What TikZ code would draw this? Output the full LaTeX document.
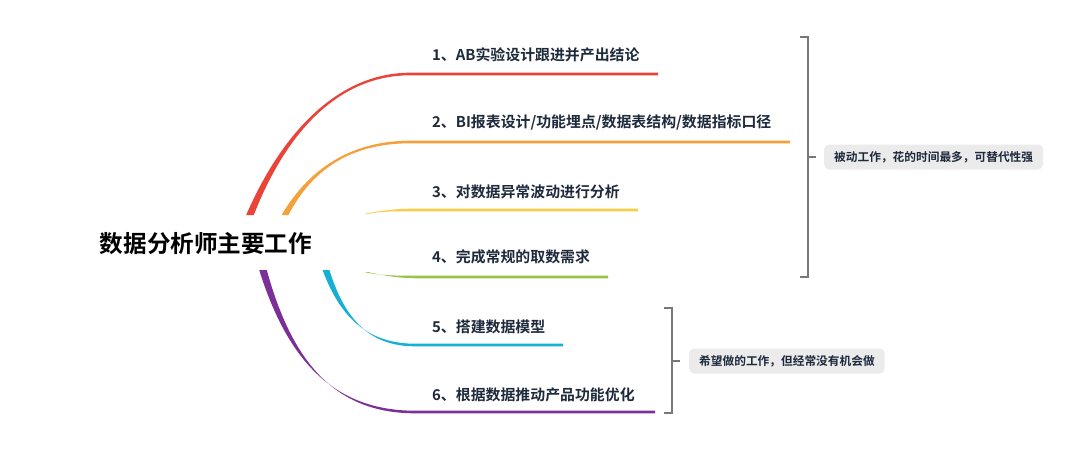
\documentclass[tikz,border=0pt]{standalone}
\usepackage{fontspec}
\setmainfont{Noto Sans CJK SC}
\newfontfamily\cjkb{Noto Sans CJK SC Bold}
\usetikzlibrary{calc}
\definecolor{cRed}{RGB}{234,67,56}
\definecolor{cOrange}{RGB}{245,160,58}
\definecolor{cYellow}{RGB}{250,205,72}
\definecolor{cGreen}{RGB}{150,196,72}
\definecolor{cCyan}{RGB}{22,176,212}
\definecolor{cPurple}{RGB}{122,48,152}
\definecolor{txt}{RGB}{30,42,60}
\definecolor{brk}{RGB}{120,120,120}
\definecolor{boxbg}{RGB}{235,235,236}
\tikzset{
  item/.style={anchor=west, inner sep=0pt, text=txt, font=\cjkb\fontsize{14.9}{16}\selectfont},
  note/.style={fill=boxbg, rounded corners=5pt, minimum height=25pt, inner xsep=10pt, inner ysep=0pt, text=txt, font=\cjkb\fontsize{11.7}{13}\selectfont},
  bracketline/.style={draw=brk, line width=1.5pt},
}
% tapered branch: #1 colour, #2 start, #3 c1, #4 c2, #5 curve end, #6 line end, #7 half start width
\newcommand{\taperbranch}[7]{%
  \fill[#1] ($(#2)+(-#7,0)$) .. controls ($(#3)+(-2,0)$) and ($(#4)+(0,-1.3)$) .. ($(#5)+(0,-1.3)$)
     -- ($(#6)+(0,-1.3)$) -- ($(#6)+(0,1.3)$) -- ($(#5)+(0,1.3)$)
     .. controls ($(#4)+(0,1.3)$) and ($(#3)+(2,0)$) .. ($(#2)+(#7,0)$) -- cycle;}
\begin{document}
\begin{tikzpicture}[x=1pt,y=-1pt]
\useasboundingbox (0,0) rectangle (1080,451);
% central node
\node[anchor=center, inner sep=0pt, font=\cjkb\fontsize{23.6}{26}\selectfont, text=black] (root) at (206,244) {数据分析师主要工作};
% coordinates
\coordinate (s1) at (250,215); \coordinate (a1) at (285,130); \coordinate (b1) at (340,74);  \coordinate (e1) at (410,74);  \coordinate (f1) at (658,74);
\coordinate (s2) at (285,215); \coordinate (a2) at (310,170); \coordinate (b2) at (350,142); \coordinate (e2) at (410,142); \coordinate (f2) at (790,142);
\coordinate (s3) at (366,214); \coordinate (a3) at (380,211); \coordinate (b3) at (395,210); \coordinate (e3) at (412,210); \coordinate (f3) at (638,210);
\coordinate (s4) at (366,272); \coordinate (a4) at (383,276); \coordinate (b4) at (400,277); \coordinate (e4) at (420,277); \coordinate (f4) at (608,277);
\coordinate (s5) at (326,270); \coordinate (a5) at (343,320); \coordinate (b5) at (370,345); \coordinate (e5) at (415,345); \coordinate (f5) at (563,345);
\coordinate (s6) at (263,270); \coordinate (a6) at (290,362); \coordinate (b6) at (335,412); \coordinate (e6) at (415,412); \coordinate (f6) at (655,412);
\taperbranch{cRed}{s1}{a1}{b1}{e1}{f1}{3.8}
\taperbranch{cOrange}{s2}{a2}{b2}{e2}{f2}{3.4}
\taperbranch{cYellow}{s3}{a3}{b3}{e3}{f3}{1.8}
\taperbranch{cGreen}{s4}{a4}{b4}{e4}{f4}{1.8}
\taperbranch{cCyan}{s5}{a5}{b5}{e5}{f5}{3.4}
\taperbranch{cPurple}{s6}{a6}{b6}{e6}{f6}{3.8}
% items
\node[item] (t1) at (432,55) {1、AB实验设计跟进并产出结论};
\node[item] (t2) at (432,122) {2、BI报表设计/功能埋点/数据表结构/数据指标口径};
\node[item] (t3) at (432,192) {3、对数据异常波动进行分析};
\node[item] (t4) at (432,257) {4、完成常规的取数需求};
\node[item] (t5) at (432,327) {5、搭建数据模型};
\node[item] (t6) at (432,395) {6、根据数据推动产品功能优化};
% bracket 1
\coordinate (g1a) at (800,37); \coordinate (g1b) at (808,37); \coordinate (g1c) at (808,277); \coordinate (g1d) at (800,277);
\coordinate (g1m) at (808,157); \coordinate (g1n) at (816,157);
\draw[bracketline] (g1a) -- (g1b) -- (g1c) -- (g1d);
\node[note, anchor=west] (n1) at (824,157) {被动工作，花的时间最多，可替代性强};
\draw[bracketline] (g1m) -- (n1.west -| g1n);
% bracket 2
\coordinate (g2a) at (664,308); \coordinate (g2b) at (672,308); \coordinate (g2c) at (672,413); \coordinate (g2d) at (664,413);
\coordinate (g2m) at (672,361); \coordinate (g2n) at (680,361);
\draw[bracketline] (g2a) -- (g2b) -- (g2c) -- (g2d);
\node[note, anchor=west] (n2) at (689,361) {希望做的工作，但经常没有机会做};
\draw[bracketline] (g2m) -- (n2.west -| g2n);
\end{tikzpicture}
\end{document}
